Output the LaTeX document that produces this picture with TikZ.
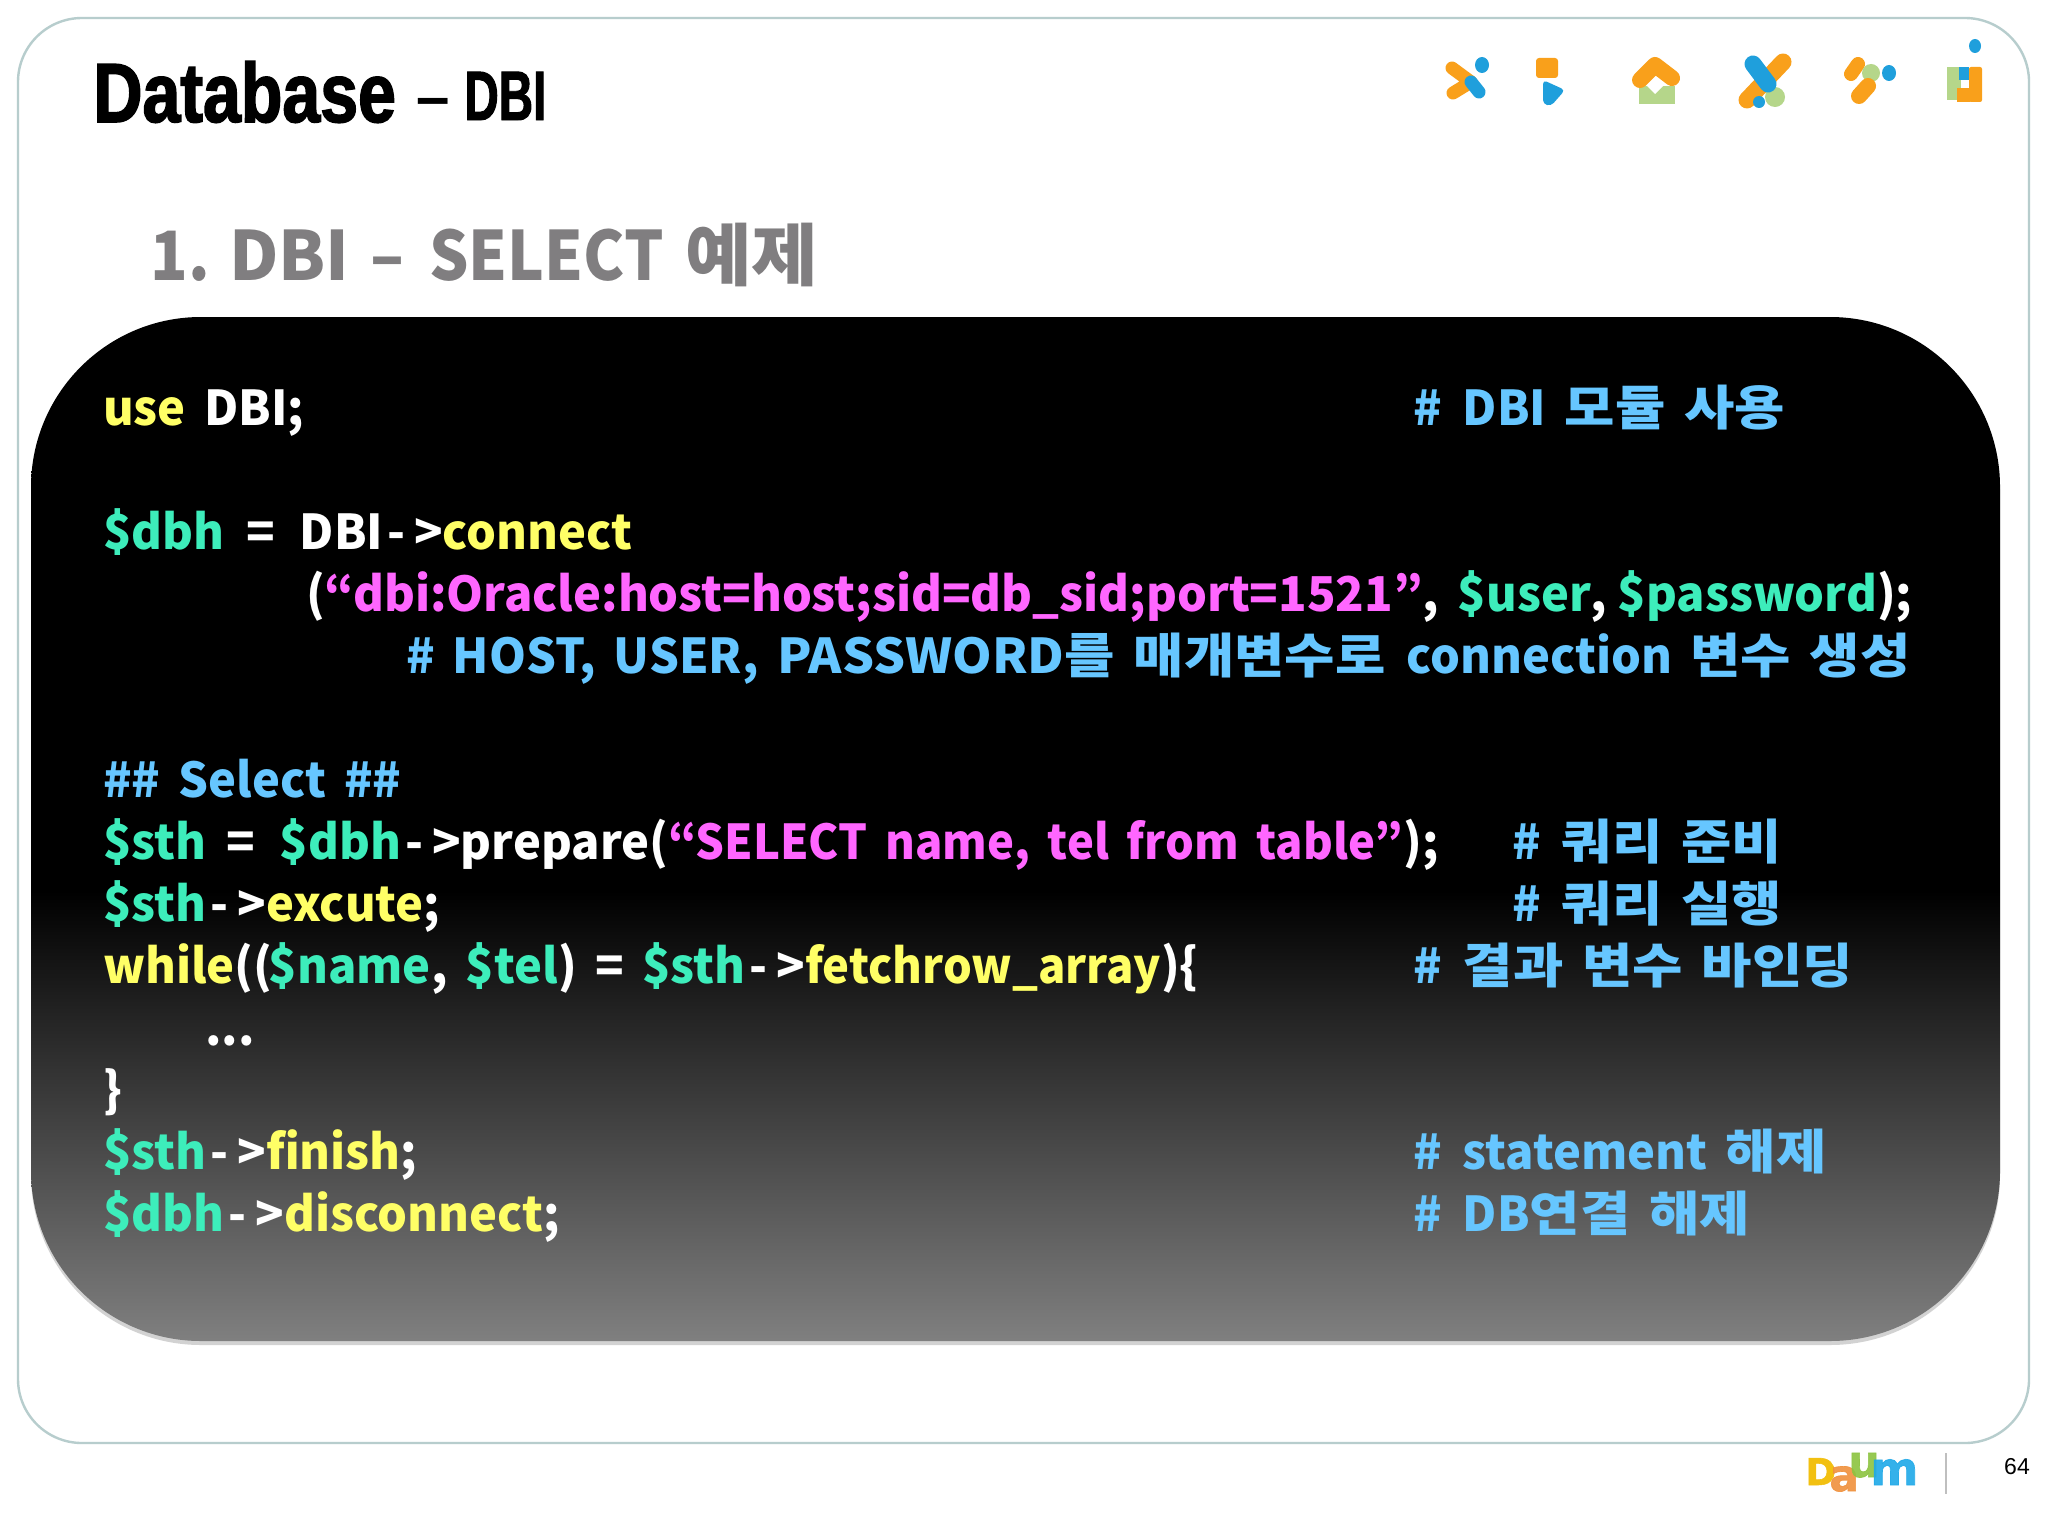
\documentclass[tikz,border=0pt]{standalone}
\usepackage{fontspec}
\setmainfont{Noto Sans CJK KR}[BoldFeatures={FakeStretch=0.98,WordSpace=1.7}]
\newfontfamily\krf{Noto Sans CJK KR}[BoldFeatures={FakeStretch=1.14,WordSpace=1.5}]
\newfontfamily\nrwf{Noto Sans CJK KR}[BoldFeatures={FakeStretch=0.945,WordSpace=1.7}]
\newfontfamily\widef{Noto Sans CJK KR}[BoldFeatures={FakeStretch=1.05}]
\newfontfamily\subfont{Noto Sans CJK KR}[BoldFeatures={FakeStretch=0.91,WordSpace=1.5}]
\newfontfamily\subwide{Noto Sans CJK KR}[BoldFeatures={FakeStretch=1.0}]
\newfontfamily\subkr{Noto Sans CJK KR}[BoldFeatures={FakeStretch=1.065}]
\newfontfamily\ttlfont{Liberation Sans Bold}[FakeStretch=0.81,FakeBold=1.8]
\newfontfamily\ttlsfont{Liberation Sans Bold}[FakeStretch=0.68,FakeBold=1.4]
\newfontfamily\ttldash{Liberation Sans Bold}
\newfontfamily\numfont{Liberation Sans}
\newfontfamily\logofont{DejaVu Sans Bold}[FakeBold=1.5]
\definecolor{kyel}{HTML}{FFFF66}
\definecolor{kgrn}{HTML}{3DEDBB}
\definecolor{kpnk}{HTML}{FF66FF}
\definecolor{kblu}{HTML}{66C6FF}
\definecolor{frm}{HTML}{B7CDCD}
\definecolor{sgray}{HTML}{807E80}
\definecolor{ior}{HTML}{F9A01B}
\definecolor{ibl}{HTML}{1F9FDC}
\definecolor{igr}{HTML}{B5D68A}
\pgfdeclareverticalshading{panelshade}{100bp}{color(0bp)=(black!50!white);color(25bp)=(black!50!white);color(47bp)=(black);color(100bp)=(black)}
\tikzset{
 x=0.5pt,y=-0.5pt,
 code/.style={anchor=base west,inner sep=0pt,outer sep=0pt,font=\bfseries\fontsize{24}{28}\selectfont,text=white},
 cmt/.style={code,text=kblu},
 ostroke/.style={draw=ior,line width=6.5pt,line cap=round,line join=round},
 bstroke/.style={draw=ibl,line width=6.5pt,line cap=round,line join=round},
 logo/.style={inner sep=0pt,anchor=base west}
}
\newcommand{\Y}[1]{\textcolor{kyel}{#1}}
\newcommand{\G}[1]{\textcolor{kgrn}{#1}}
\newcommand{\Pk}[1]{\textcolor{kpnk}{#1}}
\newcommand{\K}[1]{{\krf\bfseries #1}}
\newcommand{\Nr}[1]{{\nrwf\bfseries #1}}
\newcommand{\Wd}[1]{{\widef\bfseries #1}}
\newcommand{\Ar}{\kern2pt-\kern4.5pt>}
\newcommand{\Hs}{\#\kern1.5pt}
\begin{document}
\begin{tikzpicture}
\useasboundingbox (0,0) rectangle (2048,1536);
\fill[white] (0,0) rectangle (2048,1536);
% frame
\draw[frm,line width=1.2pt,rounded corners=32pt] (18,18) rectangle (2029,1443);
% panel
\fill[black!35,opacity=.5,rounded corners=85pt] (31,322) rectangle (2000,1345);
\path[shading=panelshade,rounded corners=85pt] (31,317) rectangle (2000,1341);
% titles
\node[inner sep=0pt,anchor=base west,font=\ttlfont\fontsize{42}{42}\selectfont] (t1) at (93,122) {Database};
\node[inner sep=0pt,anchor=base west,font=\ttldash\fontsize{30}{30}\selectfont] (t2) at (416,118) {–};
\node[inner sep=0pt,anchor=base west,font=\ttlsfont\fontsize{35}{35}\selectfont] (t3) at (464,120) {DBI};
\node[inner sep=0pt,anchor=base west,text=sgray,font=\subfont\bfseries\fontsize{34}{34}\selectfont] (t4) at (150,280) {1.\kern-1pt\ {\subwide\bfseries DBI} –\kern1.5pt{} SELECT {\subkr\bfseries 예제}};
% code
\node[code] (l1) at (103,425) {\Y{use} DBI;};
\node[cmt] (c1) at (1413,425) {\Hs{} DBI \K{모듈 사용}};
\node[code] (l2) at (103,549) {\G{\$dbh} \kern2pt=\kern3pt{} DBI\Ar\Y{connect}};
\node[code] (l3) at (306,611) {(\Pk{“dbi:Oracle:host=host;sid=db\_sid;port=1521”}, \G{\$user}, \kern-4pt\G{\$password});};
\node[cmt] (c3) at (406,673) {\# HOST, USER, \Wd{PASSWORD}\K{를 매개변수로} \kern1.5pt connection \K{변수 생성}};
\node[cmt] (l4) at (103,797) {\#\# Select \#\#};
\node[code] (l5) at (103,859) {\G{\$sth} \kern1pt=\kern3pt{} \G{\$dbh}\Ar prepare(\Pk{\Nr{“SELECT name, tel from table”}});};
\node[cmt] (c5) at (1512,859) {\Hs{} \K{쿼리 준비}};
\node[code] (l6) at (103,921) {\G{\$sth}\Ar\Y{excute};};
\node[cmt] (c6) at (1512,921) {\Hs{} \K{쿼리 실행}};
\node[code] (l7) at (103,983) {\Y{while}((\kern-2pt\G{\$name}, \G{\$tel}) = \G{\$sth}\Ar\Y{\Nr{fetchrow\_array}})\{};
\node[cmt] (c7) at (1413,983) {\Hs{} \K{결과 변수 바인딩}};
\node[code] (l8) at (205,1045) {...};
\node[code] (l9) at (103,1107) {\}};
\node[code] (l10) at (103,1169) {\G{\$sth}\Ar\Y{finish};};
\node[cmt] (c10) at (1413,1169) {\Hs{} statement \K{해제}};
\node[code] (l11) at (103,1231) {\G{\$dbh}\Ar\Y{disconnect};};
\node[cmt] (c11) at (1413,1231) {\Hs{} DB\K{연결 해제}};
% icon 1
\draw[ostroke] (1452,68) -- (1471,82) -- (1453,93);
\draw[bstroke] (1471,82) -- (1479,92);
\fill[ibl] (1482,65) ellipse (7 and 8);
% icon 2
\fill[ior,rounded corners=1.5pt] (1536,58) rectangle (1558,78);
\fill[ibl,rounded corners=2pt] (1543,80) -- (1565,90) -- (1551,106) -- (1543,104) -- cycle;
% icon 3
\fill[igr] (1639,86) rectangle (1675,104);
\draw[ostroke,line width=8pt] (1640,80) -- (1655,65) -- (1672,78);
\fill[white] (1655,78) -- (1663,86) -- (1655,94) -- (1647,86) -- cycle;
% icon 4
\draw[ostroke,line width=8.5pt] (1747,100) -- (1783,62);
\fill[igr] (1775,97) circle (10);
\draw[bstroke,line width=8.5pt] (1753,64) -- (1768,84);
\fill[ibl] (1759,102) circle (6);
% icon 5
\draw[ostroke,line width=7pt] (1851,74) -- (1858,64);
\fill[igr] (1871,73) circle (9);
\fill[ibl] (1889,73) ellipse (7 and 8);
\draw[ostroke,line width=8pt] (1859,96) -- (1868,86);
% icon 6
\fill[ibl] (1975,46) ellipse (6 and 7);
\fill[igr] (1947,67) rectangle (1961,100);
\fill[ibl] (1959,67) rectangle (1969,80);
\fill[ior,rounded corners=1pt] (1969,67) rectangle (1982,102);
\fill[ior] (1957,88) rectangle (1970,102);
% footer logo
\node[logo,font=\logofont\fontsize{18.5}{19}\selectfont,text={rgb,255:red,242;green,192;blue,17}] (d) at (1805,1485) {D};
\node[logo,font=\logofont\fontsize{22}{22}\selectfont,text={rgb,255:red,240;green,145;blue,60},opacity=.9] (a) at (1829,1491) {a};
\node[logo,font=\logofont\fontsize{22}{22}\selectfont,text={rgb,255:red,140;green,196;blue,64},opacity=.9] (u) at (1848,1477) {u};
\node[logo,font=\logofont\fontsize{23}{23}\selectfont,text={rgb,255:red,31;green,169;blue,232},opacity=.9] (m) at (1870,1485) {m};
\coordinate (s1) at (1946,1453);
\coordinate (s2) at (1946,1494);
\draw[black!25,line width=.6pt] (s1) -- (s2);
\node[inner sep=0pt,font=\numfont\fontsize{11.5}{12}\selectfont] (pg) at (2017,1467) {64};
\end{tikzpicture}
\end{document}
